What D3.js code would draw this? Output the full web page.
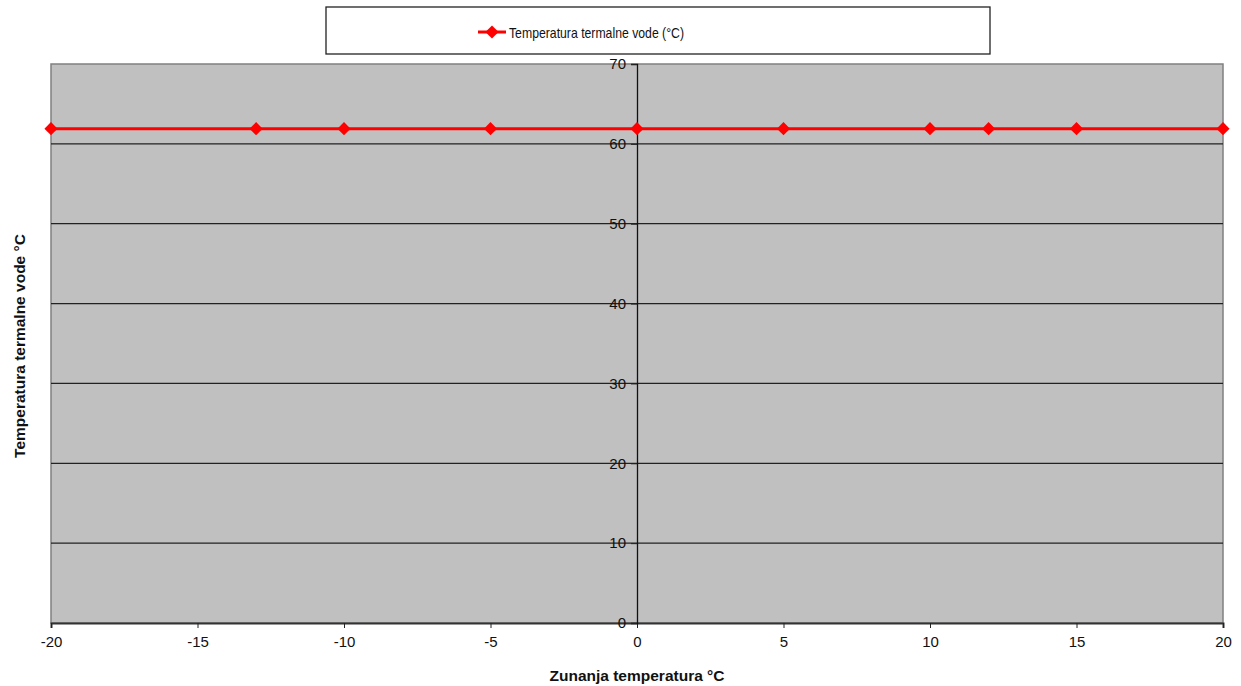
<!DOCTYPE html>
<html>
<head>
<meta charset="utf-8">
<script src="https://cdn.jsdelivr.net/npm/d3@7"></script>
<style>
  body { margin: 0; background: #fff; }
  text { font-family: Arial, "Liberation Sans", sans-serif; }
</style>
</head>
<body>
<div id="container"></div>
<script>
const $ = (...args) => document.querySelector(...args);

// data
const outsideTemp = [-20, -13, -10, -5, 0, 5, 10, 12, 15, 20];
const waterTemp = [61.9, 61.9, 61.9, 61.9, 61.9, 61.9, 61.9, 61.9, 61.9, 61.9];
const xTicks = [-20, -15, -10, -5, 0, 5, 10, 15, 20];
const yTicks = [0, 10, 20, 30, 40, 50, 60, 70];
const seriesName = 'Temperatura termalne vode (°C)';

const W = 1241, H = 686;
const plot = { left: 51, right: 1223, top: 64, bottom: 623 };

const svg = d3.select($('#container')).append('svg')
    .attr('width', W).attr('height', H);

const x = d3.scaleLinear().domain([-20, 20]).range([plot.left, plot.right]);
const y = d3.scaleLinear().domain([0, 70]).range([plot.bottom, plot.top]);

// plot area
svg.append('rect')
    .attr('x', plot.left).attr('y', plot.top)
    .attr('width', plot.right - plot.left).attr('height', plot.bottom - plot.top)
    .attr('fill', '#c0c0c0').attr('stroke', '#808080').attr('stroke-width', 1.5);

// horizontal gridlines
svg.append('g').selectAll('line')
    .data(yTicks.filter(d => d > 0 && d < 70))
    .join('line')
    .attr('x1', plot.left).attr('x2', plot.right)
    .attr('y1', d => y(d)).attr('y2', d => y(d))
    .attr('stroke', '#222').attr('stroke-width', 1.3);

// x axis along the bottom
const xAxis = svg.append('g')
    .attr('transform', `translate(0,${plot.bottom})`)
    .call(d3.axisBottom(x).tickValues(xTicks).tickSize(5).tickPadding(8).tickFormat(d => String(d)));
xAxis.select('.domain').attr('stroke', '#333').attr('stroke-width', 2);
xAxis.selectAll('.tick line').attr('stroke', '#222');
xAxis.selectAll('text').attr('font-size', 15).attr('fill', '#111');

// y axis through x = 0
const yAxis = svg.append('g')
    .attr('transform', `translate(${x(0)},0)`)
    .call(d3.axisLeft(y).tickValues(yTicks).tickSize(6).tickPadding(5).tickFormat(d => String(d)));
yAxis.select('.domain').attr('stroke', '#111').attr('stroke-width', 1.3);
yAxis.selectAll('.tick line').attr('stroke', '#222');
yAxis.selectAll('text').attr('font-size', 15).attr('fill', '#111');

// series
const pts = outsideTemp.map((t, i) => [t, waterTemp[i]]);
svg.append('path')
    .datum(pts)
    .attr('fill', 'none').attr('stroke', '#ff0000').attr('stroke-width', 3)
    .attr('d', d3.line().x(d => x(d[0])).y(d => y(d[1])));

const diamond = d3.symbol().type(d3.symbolDiamond2).size(110);
svg.append('g').selectAll('path')
    .data(pts)
    .join('path')
    .attr('transform', d => `translate(${x(d[0])},${y(d[1])})`)
    .attr('d', diamond)
    .attr('fill', '#ff0000');

// axis titles
svg.append('text')
    .attr('x', x(0)).attr('y', 681)
    .attr('text-anchor', 'middle')
    .attr('font-size', 15.5).attr('font-weight', 'bold').attr('fill', '#111')
    .text('Zunanja temperatura °C');

svg.append('text')
    .attr('transform', `translate(25,${(232 + 460) / 2}) rotate(-90)`)
    .attr('text-anchor', 'middle')
    .attr('font-size', 15.5).attr('font-weight', 'bold').attr('fill', '#111')
    .text('Temperatura termalne vode °C');

// legend
const legend = svg.append('g');
legend.append('rect')
    .attr('x', 326).attr('y', 7).attr('width', 664).attr('height', 47)
    .attr('fill', '#fff').attr('stroke', '#222').attr('stroke-width', 1.3);
legend.append('line')
    .attr('x1', 478).attr('x2', 506).attr('y1', 32).attr('y2', 32)
    .attr('stroke', '#ff0000').attr('stroke-width', 3);
legend.append('path')
    .attr('transform', 'translate(492,32)')
    .attr('d', diamond).attr('fill', '#ff0000');
legend.append('text')
    .attr('x', 509).attr('y', 37.5)
    .attr('font-size', 15).attr('fill', '#111')
    .attr('textLength', 175)
    .attr('lengthAdjust', 'spacingAndGlyphs')
    .text(seriesName);
</script>
</body>
</html>
